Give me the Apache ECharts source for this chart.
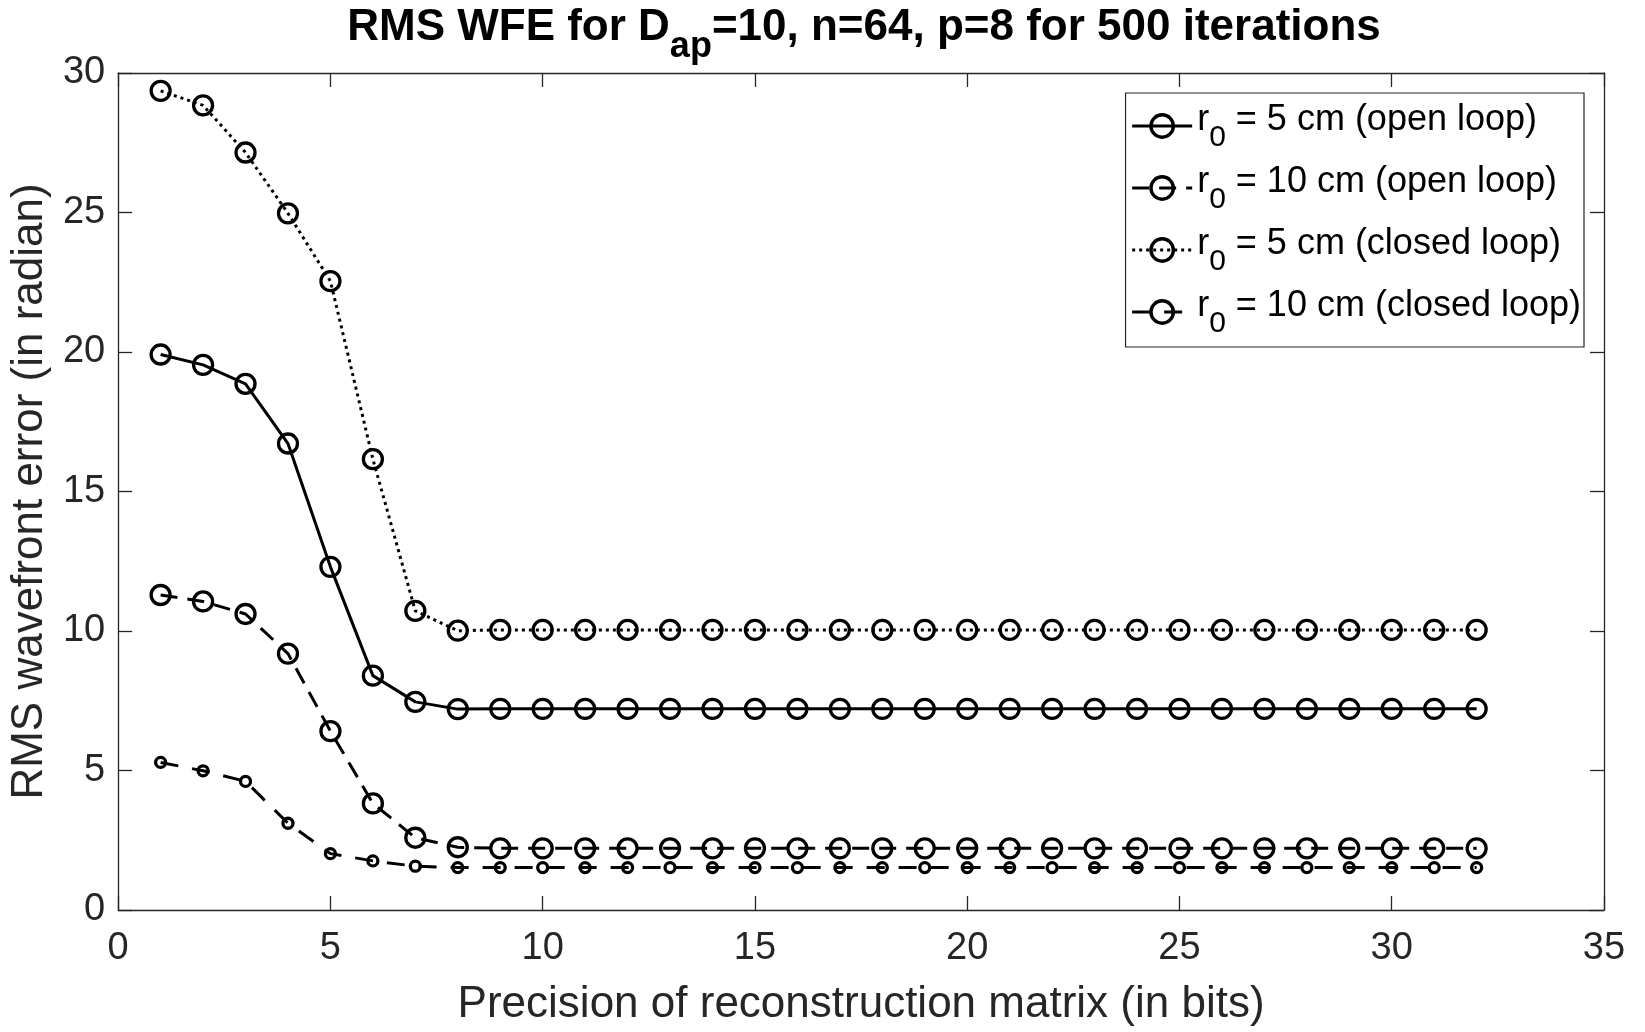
<!DOCTYPE html>
<html lang="en">
<head>
    <meta charset="UTF-8">
    <title>RMS WFE</title>
    <script src="https://cdn.jsdelivr.net/npm/echarts@6/dist/echarts.min.js"></script>
    <style>
        html, body { margin: 0; padding: 0; background: #fff; overflow: hidden; }
        #chart { width: 1645px; height: 1032px; }
    </style>
</head>
<body>
<div id="chart"></div>
<script>
    // precision (bits) 1..32
    var bits = [1,2,3,4,5,6,7,8,9,10,11,12,13,14,15,16,17,18,19,20,21,22,23,24,25,26,27,28,29,30,31,32]

    var open5 = [19.91,19.54,18.86,16.72,12.30,8.40,7.46,7.20,7.21,7.21,7.21,7.21,7.21,7.21,7.21,7.21,
                 7.21,7.21,7.21,7.21,7.21,7.21,7.21,7.21,7.21,7.21,7.21,7.21,7.21,7.21,7.21,7.21]
    var open10 = [11.29,11.06,10.61,9.19,6.41,3.82,2.59,2.25,2.21,2.21,2.21,2.21,2.21,2.21,2.21,2.21,
                  2.21,2.21,2.21,2.21,2.21,2.21,2.21,2.21,2.21,2.21,2.21,2.21,2.21,2.21,2.21,2.21]
    var closed5 = [29.36,28.84,27.15,24.97,22.54,16.16,10.72,10.01,10.04,10.04,10.04,10.04,10.04,10.04,10.04,10.04,
                   10.04,10.04,10.04,10.04,10.04,10.04,10.04,10.04,10.04,10.04,10.04,10.04,10.04,10.04,10.04,10.04]
    var closed10 = [5.29,4.99,4.61,3.11,2.02,1.76,1.57,1.52,1.52,1.52,1.52,1.52,1.52,1.52,1.52,1.52,
                    1.52,1.52,1.52,1.52,1.52,1.52,1.52,1.52,1.52,1.52,1.52,1.52,1.52,1.52,1.52,1.52]

    var names = ['r0 = 5 cm (open loop)', 'r0 = 10 cm (open loop)', 'r0 = 5 cm (closed loop)', 'r0 = 10 cm (closed loop)']

    function pairs(ys) {
        var out = []
        for (var i = 0; i < bits.length; i++) out.push([bits[i], ys[i]])
        return out
    }

    function mkSeries(name, ys, dash, size) {
        return {
            name: name,
            type: 'line',
            data: pairs(ys),
            symbol: 'circle',
            symbolSize: size,
            showAllSymbol: true,
            itemStyle: { color: 'rgba(0,0,0,0)', borderColor: '#000', borderWidth: 3.3 },
            lineStyle: { color: '#000', width: 3, type: dash },
            emphasis: { disabled: true },
            animation: false
        }
    }

    var font = 'Liberation Sans, Arial, Helvetica, sans-serif'
    var axisCol = '#262626'

    function axisBits(extra) {
        var o = {
            type: 'value',
            axisLine: { show: true, onZero: false, lineStyle: { color: axisCol, width: 1.3 } },
            axisTick: { show: true, inside: true, length: 14, lineStyle: { color: axisCol, width: 1.3 } },
            splitLine: { show: false }
        }
        for (var k in extra) o[k] = extra[k]
        return o
    }

    var myChart = echarts.init(document.getElementById('chart'))
    myChart.setOption({
        animation: false,
        backgroundColor: '#fff',
        title: {
            text: '{t|RMS WFE for D}{s|ap}{t|=10, n=64, p=8 for 500 iterations}',
            left: 859,
            textAlign: 'center',
            top: 1,
            textStyle: {
                rich: {
                    t: { fontFamily: font, fontSize: 44, fontWeight: 'bold', color: '#000', verticalAlign: 'top', lineHeight: 52 },
                    s: { fontFamily: font, fontSize: 36, fontWeight: 'bold', color: '#000', padding: [30, 0, 0, 0], lineHeight: 52 }
                }
            }
        },
        legend: {
            data: names,
            orient: 'vertical',
            right: 61,
            top: 93,
            itemWidth: 60,
            itemHeight: 28,
            itemGap: 8,
            padding: [6, 3, 8, 5],
            borderColor: axisCol,
            borderWidth: 1.2,
            backgroundColor: '#fff',
            lineStyle: { width: 3.2 },
            itemStyle: { borderWidth: 3.4 },
            formatter: function (n) {
                return '{a|r}{b|0}{a|' + n.slice(2) + '}'
            },
            textStyle: {
                rich: {
                    a: { fontFamily: font, fontSize: 36, color: '#000', verticalAlign: 'top', lineHeight: 47 },
                    b: { fontFamily: font, fontSize: 30, color: '#000', padding: [24, 0, 0, 0], lineHeight: 47 }
                }
            }
        },
        grid: { left: 117, right: 41, top: 73, bottom: 120, containLabel: false },
        xAxis: [axisBits({
            min: 0, max: 35, interval: 5,
            name: 'Precision of reconstruction matrix (in bits)',
            nameLocation: 'middle', nameGap: 73,
            nameTextStyle: { fontFamily: font, fontSize: 44, color: axisCol },
            axisLabel: { fontFamily: font, fontSize: 38, color: axisCol, margin: 20 }
        }), axisBits({
            min: 0, max: 35, interval: 5, position: 'top',
            axisLabel: { show: false }
        })],
        yAxis: [axisBits({
            min: 0, max: 30, interval: 5,
            name: 'RMS wavefront error (in radian)',
            nameLocation: 'middle', nameGap: 65,
            nameTextStyle: { fontFamily: font, fontSize: 44, color: axisCol },
            axisLabel: { fontFamily: font, fontSize: 38, color: axisCol, margin: 13 }
        }), axisBits({
            min: 0, max: 30, interval: 5, position: 'right',
            axisLabel: { show: false }
        })],
        series: [
            mkSeries(names[0], open5, 'solid', 19),
            mkSeries(names[1], open10, [17, 10], 19),
            mkSeries(names[2], closed5, [3, 4], 19),
            mkSeries(names[3], closed10, [18, 14], 10)
        ]
    })
</script>
</body>
</html>
